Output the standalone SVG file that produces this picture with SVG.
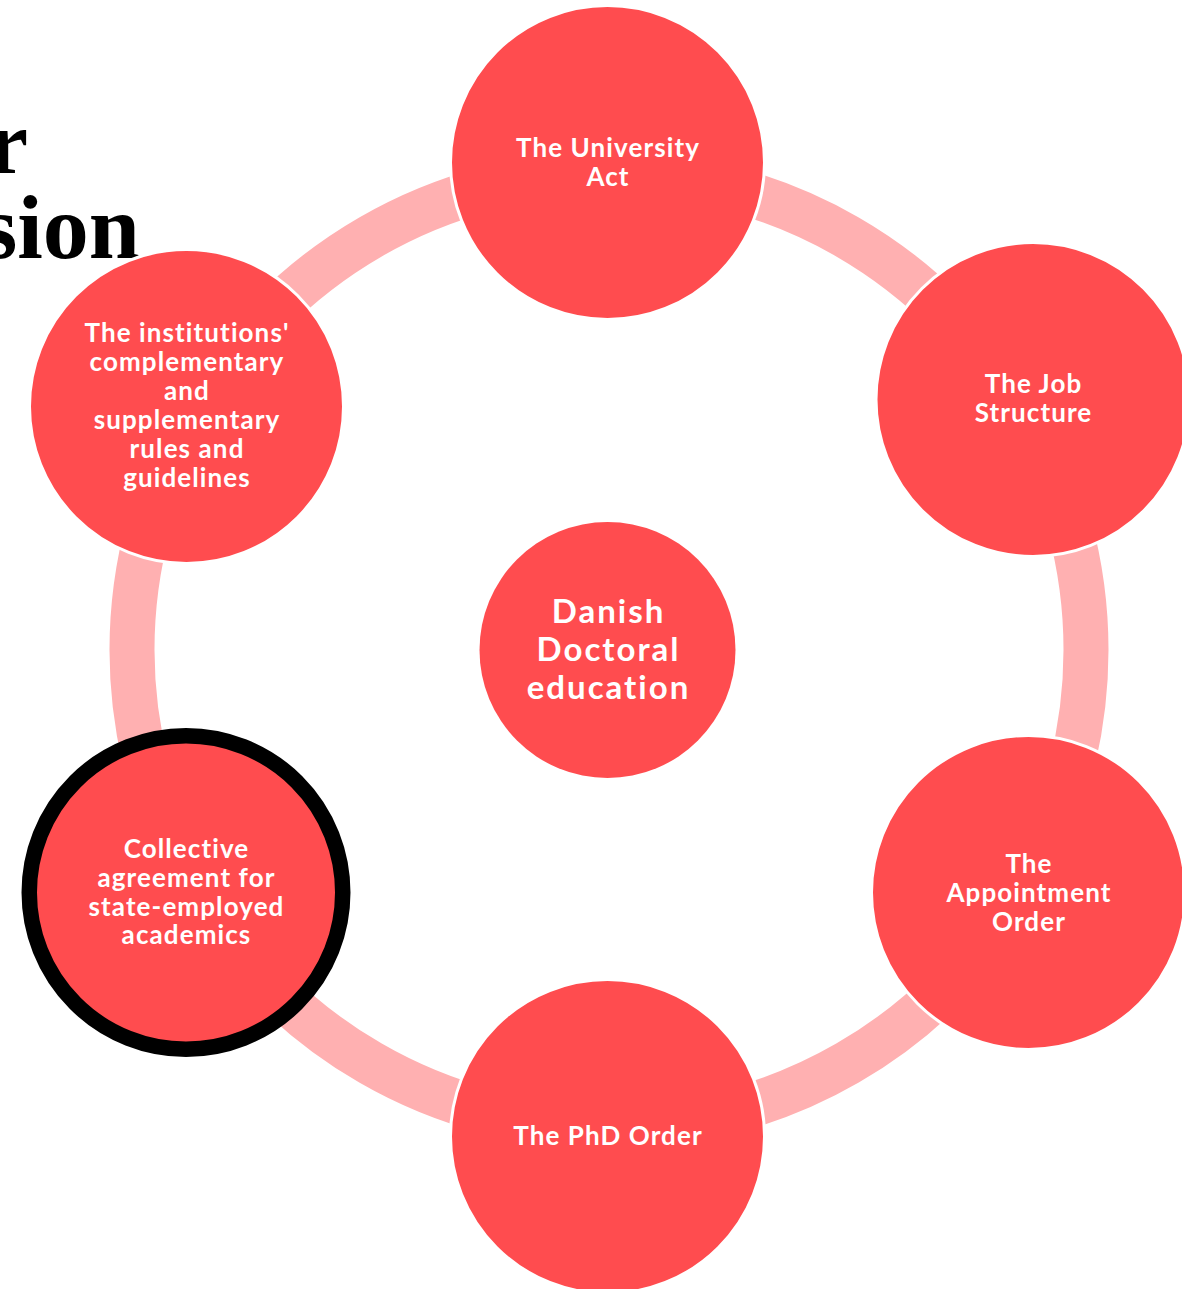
<svg xmlns="http://www.w3.org/2000/svg" width="1182" height="1289" viewBox="0 0 1182 1289">
<style>
.bg{fill:#ffffff}
.title{font-family:"Liberation Serif",serif;font-weight:bold;font-size:92px;fill:#000000}
.ring{fill:none;stroke:#FFB0B1;stroke-width:45}
.node{fill:#FF4C4F;stroke:#ffffff;stroke-width:3}
.sel{fill:#FF4C4F;stroke:#000000;stroke-width:15.5}
.lbl{font-family:Lato,"Noto Sans",sans-serif;font-weight:bold;font-size:26px;letter-spacing:1.1px;fill:#ffffff;text-anchor:middle}
.big{font-family:Lato,"Noto Sans",sans-serif;font-weight:bold;font-size:33px;letter-spacing:2px;fill:#ffffff;text-anchor:middle}
</style>
<rect class="bg" x="0" y="0" width="1182" height="1289"/>
<g id="title">
<text class="title" x="28" y="173" text-anchor="end">r</text>
<text class="title" x="140" y="258" text-anchor="end">sion</text>
</g>
<g id="connectors">
<path class="ring" d="M 609 173 A 477 477 0 0 1 1022.1 411.5"/>
<path class="ring" d="M 1022.1 411.5 A 477 477 0 0 1 1022.1 888.5"/>
<path class="ring" d="M 1022.1 888.5 A 477 477 0 0 1 609 1127"/>
<path class="ring" d="M 609 1127 A 477 477 0 0 1 195.9 888.5"/>
<path class="ring" d="M 195.9 888.5 A 477 477 0 0 1 195.9 411.5"/>
<path class="ring" d="M 195.9 411.5 A 477 477 0 0 1 609 173"/>
</g>
<g id="center">
<circle class="node" cx="607.5" cy="650" r="128" style="stroke:none"/>
<text class="big" x="608.5" y="623">Danish</text>
<text class="big" x="608.5" y="661">Doctoral</text>
<text class="big" x="608.5" y="699">education</text>
</g>
<g id="university-act">
<circle class="node" cx="607.5" cy="162.5" r="157"/>
<text class="lbl" x="608" y="157">The University</text>
<text class="lbl" x="608" y="186">Act</text>
</g>
<g id="job-structure">
<circle class="node" cx="1033" cy="399.5" r="157"/>
<text class="lbl" x="1033.5" y="393">The Job</text>
<text class="lbl" x="1033.5" y="422">Structure</text>
</g>
<g id="appointment-order">
<circle class="node" cx="1028.5" cy="892.5" r="157"/>
<text class="lbl" x="1029" y="873">The</text>
<text class="lbl" x="1029" y="902">Appointment</text>
<text class="lbl" x="1029" y="931">Order</text>
</g>
<g id="phd-order">
<circle class="node" cx="607.5" cy="1136.5" r="157"/>
<text class="lbl" x="608" y="1145">The PhD Order</text>
</g>
<g id="collective-agreement">
<circle class="sel" cx="186" cy="892.5" r="156.75"/>
<text class="lbl" x="186.5" y="858">Collective</text>
<text class="lbl" x="186.5" y="887">agreement for</text>
<text class="lbl" x="186.5" y="916">state-employed</text>
<text class="lbl" x="186.5" y="944">academics</text>
</g>
<g id="institutions-rules">
<circle class="node" cx="186.5" cy="406.5" r="157"/>
<text class="lbl" x="187" y="342">The institutions'</text>
<text class="lbl" x="187" y="371">complementary</text>
<text class="lbl" x="187" y="400">and</text>
<text class="lbl" x="187" y="429">supplementary</text>
<text class="lbl" x="187" y="458">rules and</text>
<text class="lbl" x="187" y="487">guidelines</text>
</g>
</svg>
